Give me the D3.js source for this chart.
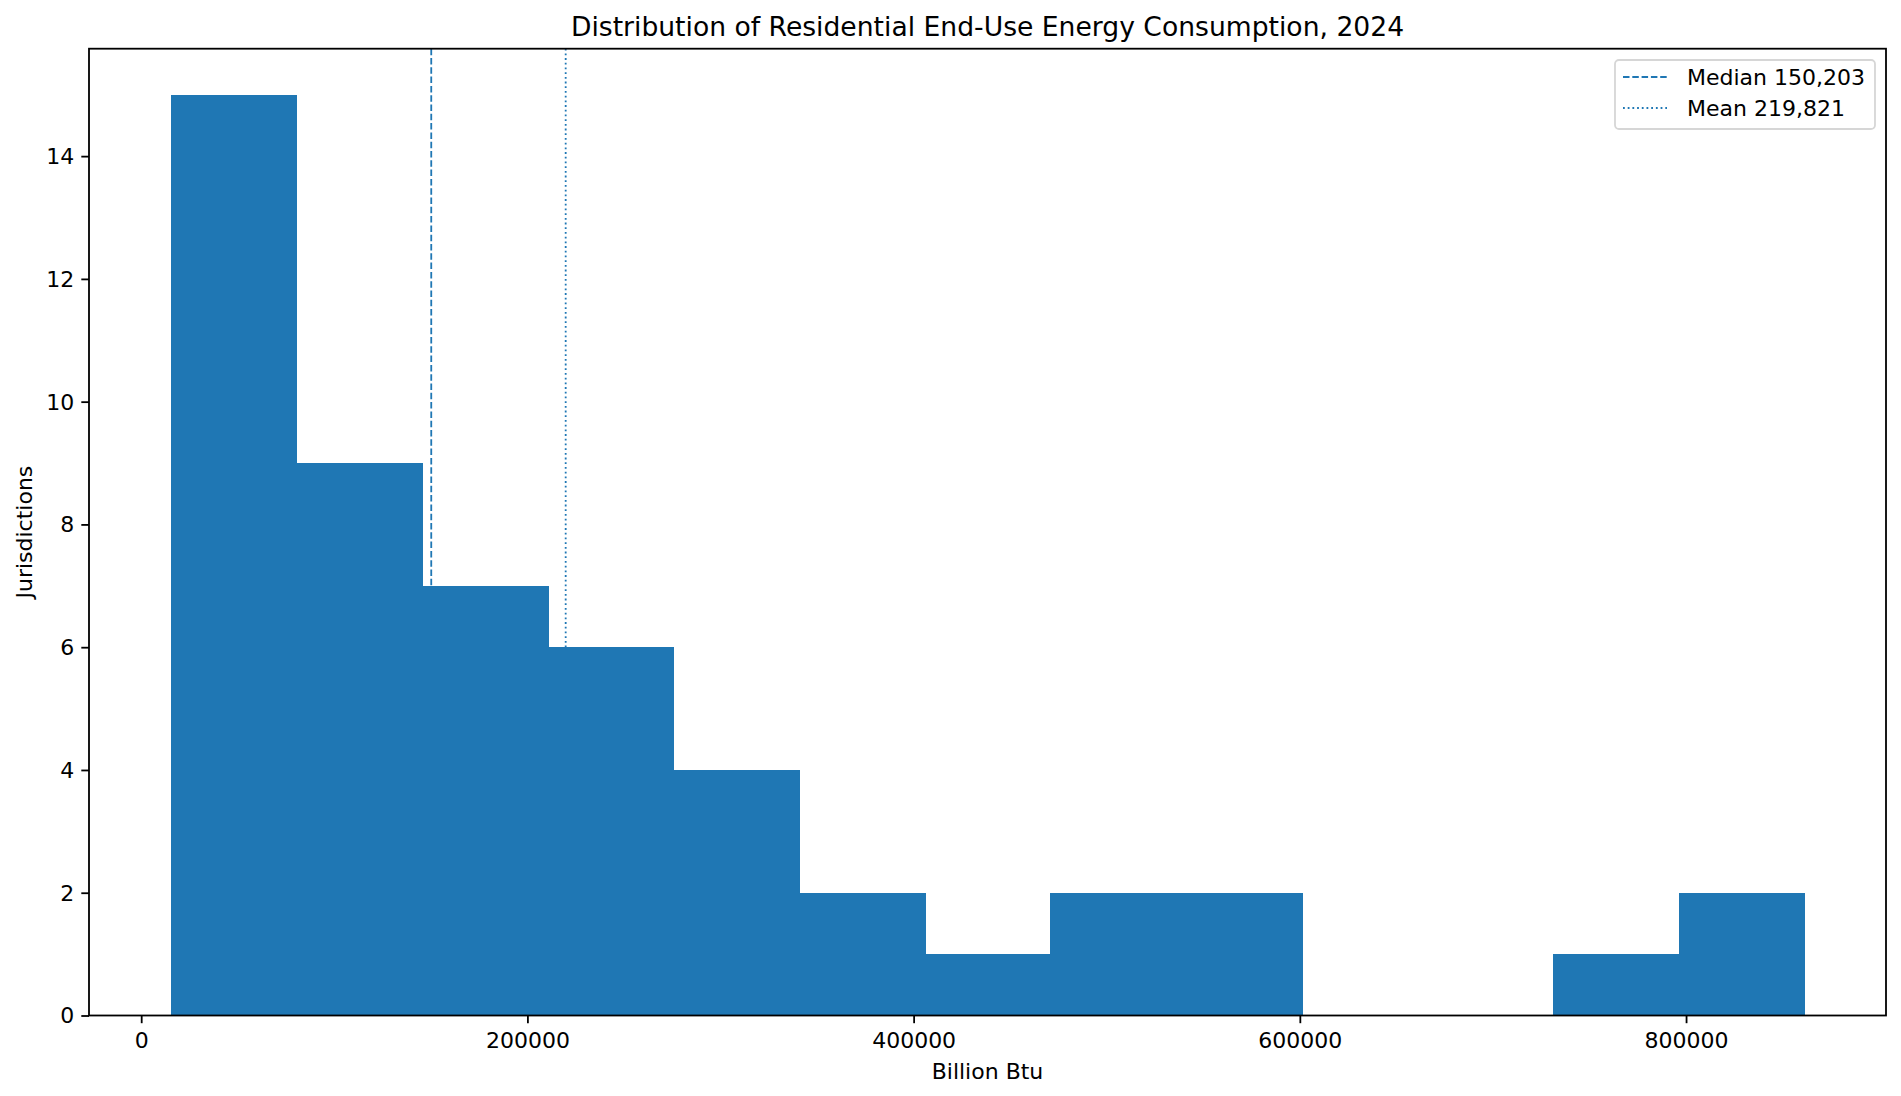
<!DOCTYPE html>
<html>
<head>
<meta charset="utf-8">
<script src="https://cdn.jsdelivr.net/npm/d3@7"></script>
<style>
  body { margin: 0; background: #fff; }
  svg { display: block; font-family: "DejaVu Sans", sans-serif; }
</style>
</head>
<body>
<svg id="hist" width="1901" height="1096"></svg>
<script>
// histogram bin edges (Billion Btu) and counts per bin
const binEdges = [15270, 80345, 145420, 210495, 275570, 340645, 405720, 470795,
                  535870, 600945, 666020, 731095, 796170, 861245];
const binCounts = [15, 9, 7, 6, 4, 2, 1, 2, 2, 0, 0, 1, 2];
const xTicks = [0, 200000, 400000, 600000, 800000];
const yTicks = [0, 2, 4, 6, 8, 10, 12, 14];
const medianValue = 150203;
const meanValue = 219821;
const refLines = [
  {name: "Median", value: medianValue, dash: "6.5,2.8"},
  {name: "Mean", value: meanValue, dash: "1.8,2.9"}
];

drawHist();

function drawHist() {
  const svg = d3.select("#hist");
  const left = 89, right = 1886, top = 48.7, bottom = 1015.5;
  const blue = "#1f77b4";

  // matplotlib style 5% margins
  const lo = binEdges[0], hi = binEdges[binEdges.length - 1];
  const pad = (hi - lo) * 0.05;
  const x = d3.scaleLinear().domain([lo - pad, hi + pad]).range([left, right]);
  const y = d3.scaleLinear().domain([0, d3.max(binCounts) * 1.05]).range([bottom, top]);

  const bins = binCounts.map((c, i) => ({x0: binEdges[i], x1: binEdges[i + 1], n: c}));

  // reference lines sit under the bars
  svg.selectAll("line.ref")
    .data(refLines)
    .enter()
    .append("line")
    .attr("class", "ref")
    .attr("x1", d => x(d.value)).attr("x2", d => x(d.value))
    .attr("y1", top).attr("y2", bottom)
    .attr("stroke", blue)
    .attr("stroke-width", 1.8)
    .attr("stroke-dasharray", d => d.dash);

  svg.selectAll("rect.bar")
    .data(bins.filter(d => d.n > 0))
    .enter()
    .append("rect")
    .attr("class", "bar")
    .attr("x", d => x(d.x0))
    .attr("y", d => y(d.n))
    .attr("width", d => x(d.x1) - x(d.x0) + 1)
    .attr("height", d => y(0) - y(d.n))
    .attr("fill", blue)
    .attr("shape-rendering", "crispEdges");

  // axes
  const xAxis = svg.append("g")
    .attr("transform", "translate(0," + bottom + ")")
    .call(d3.axisBottom(x).tickValues(xTicks).tickFormat(d3.format("d")).tickSize(7.7).tickPadding(9.5));
  const yAxis = svg.append("g")
    .attr("transform", "translate(" + left + ",0)")
    .call(d3.axisLeft(y).tickValues(yTicks).tickFormat(d3.format("d")).tickSize(7.7).tickPadding(7));
  [xAxis, yAxis].forEach(g => {
    g.select(".domain").remove();
    g.selectAll(".tick line").attr("stroke", "#000").attr("stroke-width", 1.8);
    g.selectAll(".tick text")
      .attr("fill", "#000")
      .style("font-size", "22px")
      .style("font-family", "'DejaVu Sans', sans-serif");
  });
  yAxis.selectAll(".tick text").attr("dy", "0.34em");

  // frame
  svg.append("rect")
    .attr("x", left).attr("y", top)
    .attr("width", right - left).attr("height", bottom - top)
    .attr("fill", "none")
    .attr("stroke", "#000")
    .attr("stroke-width", 1.8);

  // labels
  svg.append("text")
    .attr("x", (left + right) / 2).attr("y", 36)
    .attr("text-anchor", "middle")
    .style("font-size", "26.6px")
    .text("Distribution of Residential End-Use Energy Consumption, 2024");
  svg.append("text")
    .attr("x", (left + right) / 2).attr("y", 1079)
    .attr("text-anchor", "middle")
    .style("font-size", "22px")
    .text("Billion Btu");
  svg.append("text")
    .attr("transform", "translate(32," + (top + bottom) / 2 + ") rotate(-90)")
    .attr("text-anchor", "middle")
    .style("font-size", "22px")
    .text("Jurisdictions");

  // legend
  const lg = svg.append("g");
  lg.append("rect")
    .attr("x", 1615).attr("y", 60)
    .attr("width", 260).attr("height", 69)
    .attr("rx", 4)
    .attr("fill", "#fff")
    .attr("stroke", "#d6d6d6")
    .attr("stroke-width", 1.8);
  const fmt = d3.format(",");
  refLines.forEach((d, i) => {
    const yy = 77 + i * 31;
    lg.append("line")
      .attr("x1", 1623).attr("x2", 1667)
      .attr("y1", yy).attr("y2", yy)
      .attr("stroke", blue)
      .attr("stroke-width", 1.8)
      .attr("stroke-dasharray", d.dash);
    lg.append("text")
      .attr("x", 1687).attr("y", yy + 8)
      .style("font-size", "22px")
      .text(d.name + " " + fmt(d.value));
  });
}
</script>
</body>
</html>
